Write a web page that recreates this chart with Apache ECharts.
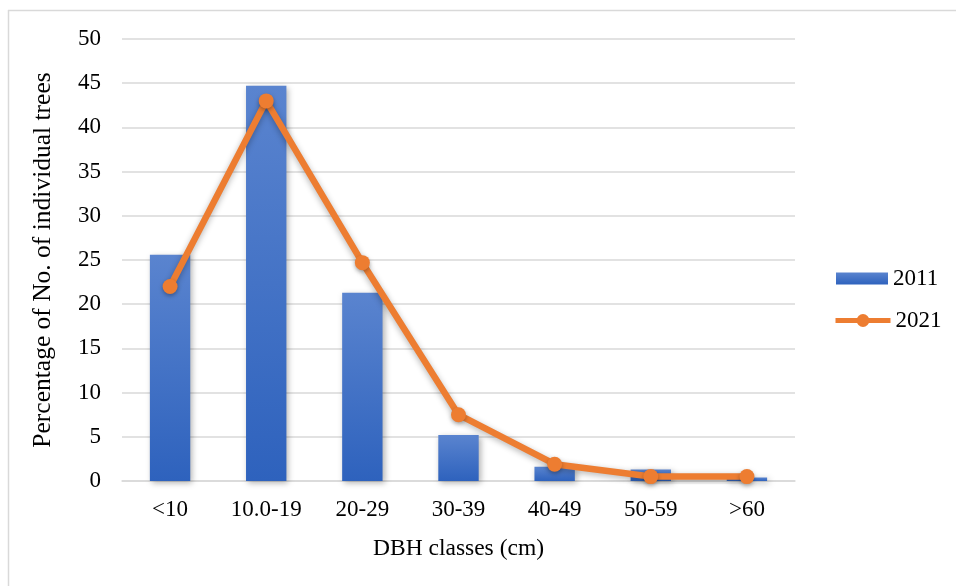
<!DOCTYPE html>
<html><head><meta charset="utf-8">
<script src="https://cdn.jsdelivr.net/npm/echarts@6/dist/echarts.min.js"></script>
<style>html,body{margin:0;padding:0;background:#fff}#c{width:956px;height:586px}</style>
</head><body><div id="c"></div>
<script>
const categories = ['<10', '10.0-19', '20-29', '30-39', '40-49', '50-59', '>60'];
const values2011 = [25.6, 44.7, 21.3, 5.2, 1.6, 1.3, 0.4];
const values2021 = [22.0, 43.0, 24.7, 7.5, 1.9, 0.5, 0.5];
const yTicks = [0, 5, 10, 15, 20, 25, 30, 35, 40, 45, 50];

const font = 'Liberation Serif';
const chart = echarts.init(document.getElementById('c'));
chart.setOption({
  animation: false,
  backgroundColor: '#fff',
  textStyle: { fontFamily: font },
  graphic: [
    { type: 'line', shape: { x1: 8, y1: 10.5, x2: 956, y2: 10.5 }, style: { stroke: '#d9d9d9', lineWidth: 1.5 } },
    { type: 'line', shape: { x1: 8.5, y1: 10, x2: 8.5, y2: 586 }, style: { stroke: '#d9d9d9', lineWidth: 1.5 } }
  ],
  grid: { left: 122, right: 161, top: 39, bottom: 105, containLabel: false },
  legend: [
    {
      orient: 'vertical', left: 836, top: 267, padding: 0, itemGap: 0, itemWidth: 52, itemHeight: 12,
      textStyle: { fontFamily: font, fontSize: 23, color: '#000' },
      data: [{ name: '2011', icon: 'rect' }]
    },
    {
      orient: 'vertical', left: 833, top: 309, padding: 0, itemGap: 0, itemWidth: 55, itemHeight: 16,
      textStyle: { fontFamily: font, fontSize: 23, color: '#000' },
      lineStyle: { width: 5 },
      data: [{ name: '2021' }]
    }
  ],
  xAxis: {
    type: 'category', data: categories,
    name: 'DBH classes (cm)', nameLocation: 'middle', nameGap: 56,
    nameTextStyle: { fontFamily: font, fontSize: 23.5, color: '#000' },
    axisLine: { lineStyle: { color: '#d9d9d9', width: 1.5 } },
    axisTick: { show: false },
    axisLabel: { fontFamily: font, fontSize: 23, color: '#000', margin: 17 }
  },
  yAxis: {
    type: 'value', min: yTicks[0], max: yTicks[yTicks.length - 1], interval: 5,
    name: 'Percentage of No. of individual trees', nameLocation: 'middle', nameGap: 66,
    nameTextStyle: { fontFamily: font, fontSize: 25.5, color: '#000' },
    axisLine: { show: false }, axisTick: { show: false },
    axisLabel: { fontFamily: font, fontSize: 23, color: '#000', margin: 21 },
    splitLine: { lineStyle: { color: '#d9d9d9', width: 1.5 } }
  },
  series: [
    {
      name: '2011', type: 'bar', data: values2011, barWidth: '42%',
      itemStyle: {
        color: new echarts.graphic.LinearGradient(0, 0, 0, 1, [
          { offset: 0, color: '#5a84cf' }, { offset: 1, color: '#2e62bd' }
        ]),
        shadowColor: 'rgba(0,0,0,0.3)', shadowBlur: 6, shadowOffsetX: 2, shadowOffsetY: 2
      }
    },
    {
      name: '2021', type: 'line', data: values2021,
      symbol: 'circle', symbolSize: 15,
      lineStyle: { color: '#ED7D31', width: 6.5, shadowColor: 'rgba(0,0,0,0.3)', shadowBlur: 6, shadowOffsetY: 2 },
      itemStyle: { color: '#ED7D31', shadowColor: 'rgba(0,0,0,0.3)', shadowBlur: 4, shadowOffsetY: 2 }
    }
  ]
});
</script></body></html>
